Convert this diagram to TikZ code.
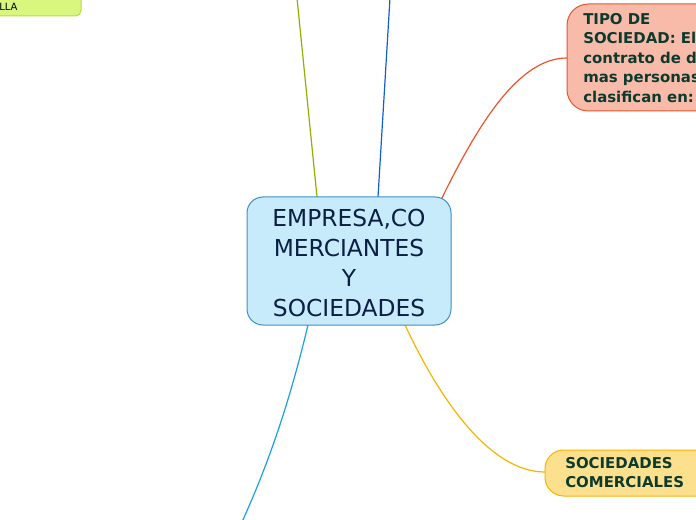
\documentclass[tikz,border=0pt]{standalone}
\usepackage{fontspec}
\setmainfont{DejaVu Sans}
\definecolor{cfill}{HTML}{C8EBFB}\definecolor{cbord}{HTML}{3B8FC7}
\definecolor{ctext}{HTML}{0B1F45}\definecolor{gtext}{HTML}{0C3B2E}
\definecolor{tfill}{HTML}{F9BBA9}\definecolor{tbord}{HTML}{E9552B}
\definecolor{sfill}{HTML}{FCE08E}\definecolor{sbord}{HTML}{F5B400}
\definecolor{lfill}{HTML}{D9F77F}\definecolor{lbord}{HTML}{B5E03A}
\definecolor{olive}{HTML}{8DB200}\definecolor{blu}{HTML}{0F5FCF}\definecolor{cya}{HTML}{1E9FE0}
\tikzset{bt/.style={font=\bfseries\fontsize{11.2}{14.6}\selectfont,text=gtext,align=left,inner sep=0pt,anchor=north west},
 con/.style={line width=0.9pt}}
\begin{document}
\begin{tikzpicture}[x=0.75pt,y=-0.75pt]
\useasboundingbox (0,0) rectangle (696,520);
\clip (0,0) rectangle (696,520);
\coordinate (ot) at (297,-2);\coordinate (bt) at (390,-2);\coordinate (cb) at (242,522);
\draw[con,olive] (317,197) -- (ot);
\draw[con,blu] (378,197) -- (bt);
\draw[con,cya] (308,325) .. controls (290,400) and (270,460) .. (cb);
\draw[con,tbord] (441,200) .. controls (480,120) and (520,58) .. (567,58);
\draw[con,sbord] (405,325) .. controls (440,400) and (490,472) .. (545,472);
\draw[fill=cfill,draw=cbord,rounded corners=12pt,line width=0.75pt] (247,197) rectangle (451,325);
\node (c) at (349,263) [align=center,text=ctext,font=\fontsize{17.5}{22.5}\selectfont] {EMPRESA,CO\\MERCIANTES\hspace{0.6em}\\ Y\\SOCIEDADES};
\draw[fill=tfill,draw=tbord,rounded corners=16pt,line width=0.75pt] (567,4) rectangle (720,111);
\node[bt] (t) at (583,13) {TIPO DE\\SOCIEDAD: El\\contrato de dos o\\mas personas se\\clasifican en:};
\draw[fill=sfill,draw=sbord,rounded corners=14pt,line width=0.75pt] (545,450) rectangle (720,496);
\node[bt] (s) at (565,457) {SOCIEDADES\\COMERCIALES};
\draw[fill=lfill,draw=lbord,rounded corners=4pt,line width=0.75pt] (-20,-10) rectangle (81,16);
\node[font=\fontsize{7.5}{9}\selectfont,anchor=west,inner sep=0pt] (l) at (-1,7) {LLA};
\end{tikzpicture}
\end{document}
